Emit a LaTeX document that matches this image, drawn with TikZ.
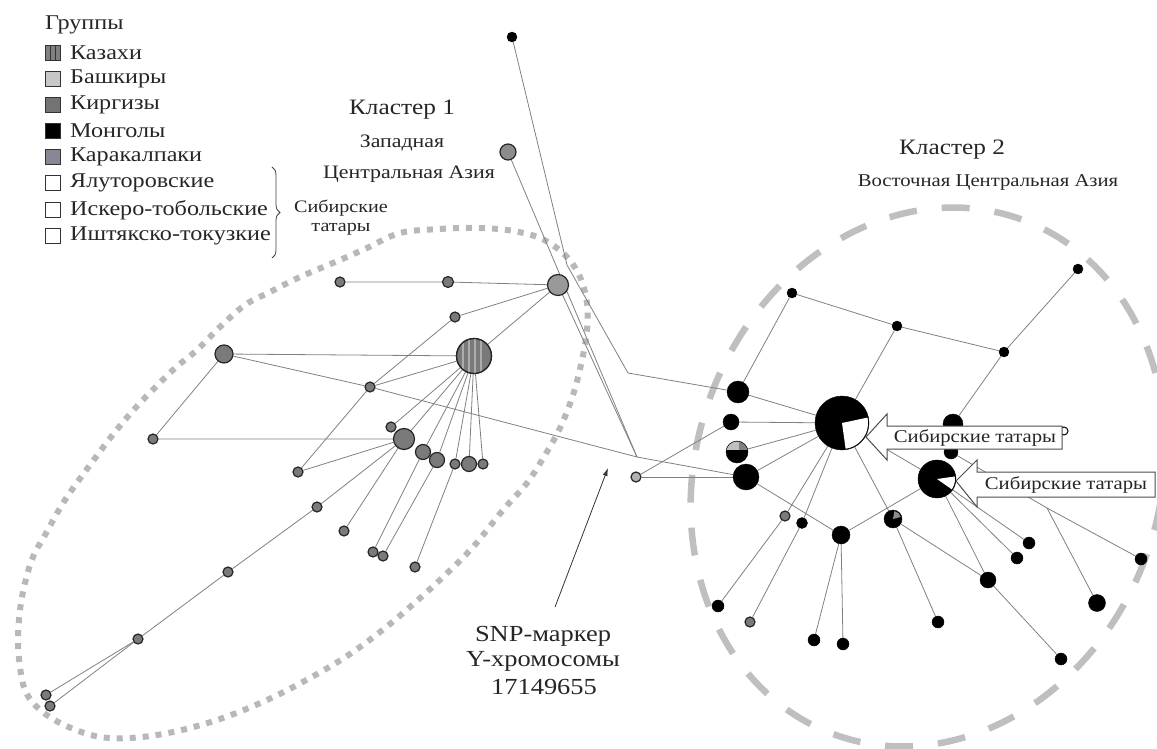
\documentclass[tikz,border=0pt]{standalone}
\usepackage{fontspec}
\setmainfont{Liberation Serif}[FakeStretch=1.15]
\usetikzlibrary{decorations.pathreplacing,arrows.meta}
\pgfdeclarelayer{bg}
\pgfsetlayers{bg,main}
\definecolor{kk}{RGB}{138,134,150}
\begin{document}
\begin{tikzpicture}[x=1pt,y=-1pt,
 edge/.style={draw=black!50, line width=0.8pt},
 gn/.style={circle, draw=black!85, fill=black!52, line width=1.2pt, inner sep=0pt, minimum size=#1},
 gn/.default=10pt,
 bn/.style={circle, draw=black, fill=black, inner sep=0pt, minimum size=#1},
 bn/.default=10pt,
 sq/.style={draw=black!80, line width=0.8pt, minimum size=15.5pt, inner sep=0pt},
 leg/.style={anchor=west, inner sep=0pt, text=black!85, font=\fontsize{21}{23}\selectfont},
 ttl/.style={inner sep=0pt, text=black!85, font=\fontsize{22}{24}\selectfont},
 sub/.style={inner sep=0pt, text=black!85, font=\fontsize{19}{21}\selectfont},
 small/.style={inner sep=0pt, text=black!85, font=\fontsize{17.5}{19}\selectfont},
 snp/.style={inner sep=0pt, text=black!85, font=\fontsize{23}{25}\selectfont},
 dotline/.style={draw=black!28, line width=6pt, dash pattern=on 6pt off 7pt},
 dashline/.style={draw=black!25, line width=6.5pt, dash pattern=on 28pt off 25pt},
 tag/.style={draw=black!70, fill=white, line width=1pt},
]
\useasboundingbox (0,0) rectangle (1157,749);

% ---------- legend ----------
\node[leg] (lg0) at (45,25) {Группы};
\node[sq, fill=black!50] (sq1) at (53,53) {};
\draw[black!80, line width=1pt] (50,46) -- (50,60) (55.5,46) -- (55.5,60);
\node[leg] (lg1) at (70,53) {Казахи};
\node[sq, fill=black!22] (sq2) at (53,79) {};
\node[leg] (lg2) at (70,79) {Башкиры};
\node[sq, fill=black!55] (sq3) at (53,105) {};
\node[leg] (lg3) at (70,105) {Киргизы};
\node[sq, fill=black] (sq4) at (53,131) {};
\node[leg] (lg4) at (70,131) {Монголы};
\node[sq, fill=kk] (sq5) at (53,157) {};
\node[leg] (lg5) at (70,157) {Каракалпаки};
\node[sq, fill=white] (sq6) at (53,183) {};
\node[leg] (lg6) at (70,183) {Ялуторовские};
\node[sq, fill=white] (sq7) at (53,210) {};
\node[leg] (lg7) at (70,210) {Искеро-тобольские};
\node[sq, fill=white] (sq8) at (53,236) {};
\node[leg] (lg8) at (70,236) {Иштякско-токузкие};
\coordinate (br1) at (272,167);
\coordinate (br2) at (272,258);
\draw[decorate, decoration={brace, amplitude=8pt}, black!75, line width=0.8pt] (br1) -- (br2);
\node[small] (sib1) at (341,208) {Сибирские};
\node[small] (sib2) at (341,229) {татары};

% ---------- titles ----------
\node[ttl] (t1a) at (402,110) {Кластер 1};
\node[sub] (t1b) at (402,143) {Западная};
\node[sub] (t1c) at (409,174) {Центральная Азия};
\node[ttl] (t2a) at (952,150) {Кластер 2};
\node[sub, font=\fontsize{18}{20}\selectfont] (t2b) at (988,182) {Восточная Центральная Азия};

% ---------- cluster 1 nodes ----------
\node[bn=10pt] (top) at (512,37) {};
\node[gn=16pt, fill=black!45] (Z) at (508,152) {};
\node[gn=21pt, fill=black!40] (H) at (558,285) {};
\node[gn] (A) at (340,282) {};
\node[gn=11pt] (B) at (448,282) {};
\node[gn] (C) at (455,317) {};
\node[gn=35pt] (K) at (474,356) {};
\begin{scope}
\clip (474,356) circle (17);
\foreach \xx in {463,469,475,481} \draw[black!32, line width=1.6pt] (\xx,336) -- (\xx,376);
\end{scope}
\draw[black!85, line width=1.2pt] (474,356) circle (17.5);
\node[gn=18pt] (D) at (224,354) {};
\node[gn] (E) at (370,387) {};
\node[gn] (F) at (153,439) {};
\node[gn=21pt] (G) at (404,439) {};
\node[gn] (g1) at (391,427) {};
\node[gn=15pt] (s1) at (423,452) {};
\node[gn=15pt] (s2) at (437,460) {};
\node[gn] (s3) at (455,464) {};
\node[gn=15pt] (s4) at (469,464) {};
\node[gn] (s5) at (483,464) {};
\node[gn] (n1) at (298,472) {};
\node[gn] (n2) at (317,507) {};
\node[gn] (n3) at (344,531) {};
\node[gn] (n4) at (373,552) {};
\node[gn] (n5) at (383,556) {};
\node[gn] (n6) at (415,567) {};
\node[gn] (n7) at (228,572) {};
\node[gn] (n8) at (138,639) {};
\node[gn] (n9) at (46,695) {};
\node[gn] (n10) at (50,706) {};
\node[gn, fill=black!30] (q) at (636,477) {};
\coordinate (k1) at (567,265);
\coordinate (bend) at (628,373);
\coordinate (m2) at (637,457);
\coordinate (m3) at (1047,508);

% ---------- cluster 2 nodes ----------
\node[bn=22pt] (P1) at (738,392) {};
\node[bn=16pt] (P2) at (731,422) {};
\node[bn=22pt] (P3) at (737,452) {};
\begin{scope}
\clip (737,452) circle (10.5);
\fill[black!25] (725,440) rectangle (739,450);
\fill[black!50] (739,440) rectangle (749,450);
\end{scope}
\node[bn=26pt] (P4) at (746,477) {};
\node[bn=54pt] (Y) at (842,423) {};
\fill[white] (842,423) -- ++(-12:26) arc[start angle=-12, end angle=82, radius=26] -- cycle;
\node[bn] (t1) at (792,293) {};
\node[bn] (t2) at (897,326) {};
\node[bn] (t3) at (1004,352) {};
\node[bn] (t4) at (1078,269) {};
\node[bn=20pt] (hid1) at (953,424) {};
\node[bn=14pt] (hid2) at (951,452) {};
\node[circle, draw=black, fill=white, line width=1pt, inner sep=0pt, minimum size=8pt] (t5) at (1064,431) {};
\node[bn=38pt] (Y2) at (937,479) {};
\fill[white] (937,479) -- ++(-8:18) arc[start angle=-8, end angle=35, radius=18] -- cycle;
\node[gn=10pt] (b1) at (785,516) {};
\node[bn=11pt] (b2) at (802,523) {};
\node[bn=18pt] (b3) at (841,535) {};
\node[bn=18pt] (b4) at (893,519) {};
\fill[black!45] (893,519) -- ++(-80:8) arc[start angle=-80, end angle=-15, radius=8] -- cycle;
\node[bn=12pt] (b5) at (718,606) {};
\node[gn=10pt] (b6) at (750,622) {};
\node[bn=12pt] (b7) at (814,640) {};
\node[bn=12pt] (b8) at (843,644) {};
\node[bn=12pt] (b9) at (938,622) {};
\node[bn=16pt] (b10) at (988,580) {};
\node[bn=12pt] (b11) at (1017,558) {};
\node[bn=12pt] (b12) at (1029,543) {};
\node[bn=12pt] (b13) at (1141,559) {};
\node[bn=17pt] (b14) at (1097,603) {};
\node[bn=12pt] (b15) at (1061,659) {};

% ---------- background: clusters and edges ----------
\begin{pgfonlayer}{bg}
\draw[dotline] plot[smooth cycle, tension=0.6] coordinates {
 (400,233) (440,229) (473,228) (507,230) (540,238) (565,255) (580,277) (587,303)
 (587,330) (582,360) (573,395) (560,428) (545,455) (527,483) (503,510) (473,547)
 (443,577) (410,607) (380,632) (347,656) (310,678) (267,700) (220,719) (173,732)
 (130,738) (95,736) (60,723) (37,707) (25,690) (20,667) (18,640) (20,610) (25,583)
 (33,557) (45,535) (65,500) (90,465) (115,432) (140,403) (173,370) (197,350)
 (220,327) (245,305) (270,292) (300,277) (340,260) (367,248)};
\draw[dashline, rotate around={-20:(928,477)}] (928,477) ellipse [x radius=232, y radius=274];
\draw[edge] (A) -- (B) -- (H);
\draw[edge] (C) -- (H);
\draw[edge] (K) -- (H);
\draw[edge] (C) -- (E) -- (n1);
\draw[edge] (D) -- (K);
\draw[edge] (D) -- (E) -- (m2) -- (P4);
\draw[edge] (E) -- (K);
\draw[edge] (F) -- (D);
\draw[edge] (F) -- (G) -- (K);
\draw[edge] (g1) -- (K);
\foreach \s in {s1,s2,s3,s4,s5} \draw[edge] (\s) -- (K);
\draw[edge] (G) -- (n1);
\draw[edge] (G) -- (n2) -- (n7) -- (n8) -- (n9);
\draw[edge] (n8) -- (n10);
\draw[edge] (G) -- (n3);
\draw[edge] (n4) -- (s1);
\draw[edge] (n5) -- (s2);
\draw[edge] (n6) -- (s3);
\draw[edge] (top) -- (k1) -- (bend) -- (P1);
\draw[edge] (Z) -- (m2);
\draw[edge] (H) -- (m2);
\draw[edge] (q) -- (P2);
\draw[edge] (q) -- (P4);
\draw[edge] (P1) -- (t1) -- (t2) -- (t3) -- (t4);
\draw[edge] (t2) -- (Y);
\draw[edge] (t3) -- (hid1);
\foreach \p in {P1,P2,P3,P4} \draw[edge] (\p) -- (Y);
\draw[edge] (Y) -- (Y2);
\draw[edge] (Y) -- (b1) -- (b5);
\draw[edge] (Y) -- (b2) -- (b6);
\draw[edge] (P4) -- (b3) -- (b7);
\draw[edge] (b3) -- (b8);
\draw[edge] (b3) -- (Y2);
\draw[edge] (Y) -- (b4) -- (b9);
\draw[edge] (b4) -- (b10) -- (b15);
\draw[edge] (Y2) -- (b10);
\draw[edge] (Y2) -- (b11);
\draw[edge] (Y2) -- (b12);
\draw[edge] (hid2) -- (m3) -- (b13);
\draw[edge] (m3) -- (b14);
\end{pgfonlayer}

% ---------- tags ----------
\draw[tag] (866,437) -- (887,414) -- (887,426) -- (1062,426) -- (1062,449) -- (887,449) -- (887,460) -- cycle;
\node[small, font=\fontsize{18}{20}\selectfont] (tag1) at (975,437.5) {Сибирские татары};
\draw[tag] (956,481) -- (977,460) -- (977,472) -- (1155,472) -- (1155,497) -- (977,497) -- (977,507) -- cycle;
\node[small, font=\fontsize{18}{20}\selectfont] (tag2) at (1066,484.5) {Сибирские татары};

% ---------- SNP ----------
\node[snp] (snp1) at (543,636) {SNP-маркер};
\node[snp] (snp2) at (543,661) {Y-хромосомы};
\node[snp] (snp3) at (544,687) {17149655};
\coordinate (snpa) at (555,607);
\coordinate (snpb) at (608,468);
\draw[black!80, line width=0.8pt, -{Latex[length=8pt,width=5pt]}] (snpa) -- (snpb);
\end{tikzpicture}
\end{document}
